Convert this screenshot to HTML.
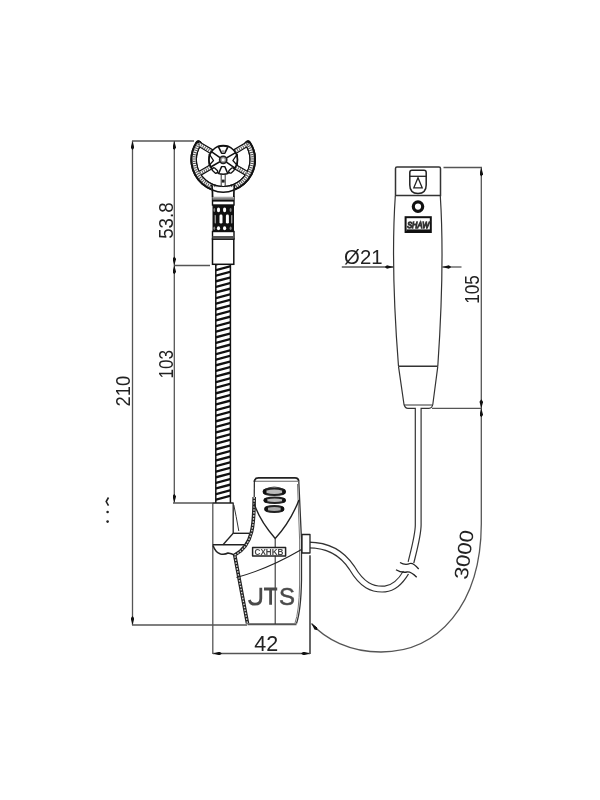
<!DOCTYPE html>
<html><head><meta charset="utf-8">
<style>
html,body{margin:0;padding:0;background:#fff;width:600px;height:800px;overflow:hidden}
svg{display:block;will-change:transform}
text{font-family:"Liberation Sans",sans-serif;fill:#222}
</style></head>
<body>
<svg width="600" height="800" viewBox="0 0 600 800">
<defs><linearGradient id="gb" x1="0" y1="0" x2="0" y2="1"><stop offset="0" stop-color="#ccc"/><stop offset="1" stop-color="#555"/></linearGradient>
<marker id="ah" viewBox="0 0 9 3.6" refX="9" refY="1.8" markerWidth="9" markerHeight="3.6" markerUnits="userSpaceOnUse" orient="auto-start-reverse">
<path d="M0,1.8 L2.5,0 L9,1.8 L2.5,3.6 z" fill="#111"/>
</marker>
</defs>
<rect width="600" height="800" fill="#fff"/>

<!-- ===== dimension lines ===== -->
<g stroke="#555" stroke-width="1.3" fill="none">
  <!-- 210 -->
  <line x1="132.5" y1="141" x2="132.5" y2="625" marker-start="url(#ah)" marker-end="url(#ah)"/>
  <line x1="132" y1="141" x2="194" y2="141"/>
  <line x1="132" y1="625" x2="247" y2="625"/>
  <!-- 53.8 -->
  <line x1="174.3" y1="141" x2="174.3" y2="265.4" marker-start="url(#ah)" marker-end="url(#ah)"/>
  <line x1="174" y1="265.5" x2="210" y2="265.5"/>
  <!-- 103 -->
  <line x1="174.3" y1="265.4" x2="174.3" y2="502.8" marker-start="url(#ah)" marker-end="url(#ah)"/>
  <line x1="173" y1="503" x2="213" y2="503"/>
  <!-- 42 -->
  <line x1="213" y1="653.5" x2="310" y2="653.5" marker-start="url(#ah)" marker-end="url(#ah)"/>
  <line x1="212.8" y1="503" x2="212.8" y2="654"/>
  <line x1="310" y1="555" x2="310" y2="654"/>
  <!-- 105 -->
  <line x1="481.3" y1="167.5" x2="481.3" y2="408.3" marker-start="url(#ah)" marker-end="url(#ah)"/>
  <line x1="443.5" y1="167.5" x2="482" y2="167.5"/>
  <line x1="432" y1="408.3" x2="482" y2="408.3"/>
  <!-- 3000 -->
  <path d="M481.3,408.3 L481.3,524 C481,605 438,652 381,652 C350,652 325,639 311.5,623.5" marker-start="url(#ah)" marker-end="url(#ah)"/>
  <!-- Ø21 -->
  <line x1="341.8" y1="267" x2="393.5" y2="267" marker-end="url(#ah)"/>
  <line x1="461.5" y1="267" x2="442.3" y2="267" marker-end="url(#ah)"/>
</g>

<!-- texts -->
<g fill="#111">
<g transform="translate(123.45,390.9) rotate(-90) translate(-15.5,7.0)"><text x="0" y="0" transform="scale(0.931,1)" font-size="19.75">210</text></g>
<g transform="translate(165.6,364.05) rotate(-90) translate(-14.5,7.0)"><text x="0" y="0" transform="scale(0.856,1)" font-size="20.04">103</text></g>
<g transform="translate(165.6,220.3) rotate(-90) translate(-18.5,7.0)"><text x="0" y="0" transform="scale(0.934,1)" font-size="20.04">53.8</text></g>
<g transform="translate(266.2,643.55) rotate(0) translate(-12.0,7.5)"><text x="0" y="0" transform="scale(0.999,1)" font-size="21.56">42</text></g>
<g transform="translate(363.1,256.6) rotate(0) translate(-19.0,7.5)"><text x="0" y="0" transform="scale(0.976,1)" font-size="20.83">Ø21</text></g>
<g transform="translate(472.0,289.3) rotate(-90) translate(-14.5,7.0)"><text x="0" y="0" transform="scale(0.869,1)" font-size="19.76">105</text></g>
<g transform="translate(463.7,554.45) rotate(-83) translate(-25.0,7.0)"><text x="0" y="0" transform="scale(1.149,1)" font-size="19.43">3000</text></g>
</g>

<!-- stray marks -->
<g fill="#222">
<path d="M108.5,497.5 L106.2,501.6 L108.5,505.6" stroke="#222" stroke-width="1.6" fill="none"/>
<circle cx="107.6" cy="512" r="1.3"/>
<circle cx="107.6" cy="521.6" r="1.3"/>
</g>

<!-- ===== handheld mic ===== -->
<g stroke="#333" fill="none" stroke-width="1.3">
  <path d="M395.5,195.5 L395.5,168.5 Q395.5,167 397,167 L439,167 Q440.5,167 440.5,168.5 L440.5,195.5 Z" fill="#fff" stroke-width="1.5"/>
  <path d="M395.3,196 C393,230 392.5,290 398.5,366.3" stroke-width="1.2"/>
  <path d="M440.3,196 C442.5,230 443,290 437.8,366.3" stroke-width="1.2"/>
  <line x1="398.5" y1="366.3" x2="437.8" y2="366.3" stroke-width="1.5"/>
  <path d="M398.5,366.3 L404,404.5 Q405,408.3 408,408.3 L429,408.3 Q432,408.3 432.8,404.5 L437.8,366.3" stroke-width="1.2"/>
  <line x1="404.5" y1="405" x2="432.3" y2="405" stroke-width="1"/>
  <!-- shield icon -->
  <path d="M409.8,176 L409.8,172.5 Q409.8,170.3 412,170.3 L424,170.3 Q426.2,170.3 426.2,172.5 L426.2,185 Q426.2,193.3 418,193.6 Q409.8,193.3 409.8,185 Z" stroke="#222" stroke-width="1.5"/>
  <line x1="409.8" y1="176.3" x2="426.2" y2="176.3" stroke="#222" stroke-width="1.3"/>
  <path d="M418,177.8 L413.8,187.8 L422.2,187.8 Z" stroke="#222" stroke-width="1.3"/>
  <!-- ring dot -->
  <circle cx="418" cy="206.6" r="4.7" stroke="#111" stroke-width="3.2"/>
  <!-- label -->
  <rect x="405.6" y="217.2" width="25.2" height="14.8" stroke="#111" stroke-width="2" fill="#fff"/>
  <text x="418.2" y="228.2" font-size="9.5" font-style="italic" text-anchor="middle" style="fill:#333" textLength="22" lengthAdjust="spacingAndGlyphs">SHAW</text>
  <line x1="406.5" y1="230.3" x2="430" y2="230.3" stroke="#111" stroke-width="1.8"/>
</g>

<!-- ===== cable ===== -->
<g fill="none">
  <path d="M309,545 C325,545 340,550 352,568 C362,585 372,590 385,589 C395,588 401,581 406,572.5" stroke="#333" stroke-width="7"/>
  <path d="M308,545 C325,545 340,550 352,568 C362,585 372,590 385,589 C395,588 401,581 406.5,571.5" stroke="#fff" stroke-width="4.6"/>
  <path d="M418.2,408 L418.2,525 C418.2,535 414,550 411,562.5" stroke="#333" stroke-width="7"/>
  <path d="M418.2,407 L418.2,525 C418.2,535 414,550 410.7,563.5" stroke="#fff" stroke-width="4.6"/>
  <!-- break -->
  <path d="M400,562.5 Q405,565.5 410,563.5 Q413,562.5 418.7,569" stroke="#222" stroke-width="1.3"/>
  <path d="M396,569.7 Q401,573 407,572 Q411,571.5 416.7,577.3" stroke="#222" stroke-width="1.3"/>
</g>


<!-- ===== gooseneck mic ===== -->
<g id="goose">
  <clipPath id="gnclip"><rect x="215.6" y="264" width="15" height="239"/></clipPath>
  <path clip-path="url(#gnclip)" stroke="#111" stroke-width="2.3" d="M215,499.95 L231,495.65 M215,494.35 L231,490.05 M215,488.75 L231,484.45 M215,483.15 L231,478.85 M215,477.55 L231,473.25 M215,471.95 L231,467.65 M215,466.35 L231,462.05 M215,460.75 L231,456.45 M215,455.15 L231,450.85 M215,449.55 L231,445.25 M215,443.95 L231,439.65 M215,438.35 L231,434.05 M215,432.75 L231,428.45 M215,427.15 L231,422.85 M215,421.55 L231,417.25 M215,415.95 L231,411.65 M215,410.35 L231,406.05 M215,404.75 L231,400.45 M215,399.15 L231,394.85 M215,393.55 L231,389.25 M215,387.95 L231,383.65 M215,382.35 L231,378.05 M215,376.75 L231,372.45 M215,371.15 L231,366.85 M215,365.55 L231,361.25 M215,359.95 L231,355.65 M215,354.35 L231,350.05 M215,348.75 L231,344.45 M215,343.15 L231,338.85 M215,337.55 L231,333.25 M215,331.95 L231,327.65 M215,326.35 L231,322.05 M215,320.75 L231,316.45 M215,315.15 L231,310.85 M215,309.55 L231,305.25 M215,303.95 L231,299.65 M215,298.35 L231,294.05 M215,292.75 L231,288.45 M215,287.15 L231,282.85 M215,281.55 L231,277.25 M215,275.95 L231,271.65 M215,270.35 L231,266.05 M215,264.75 L231,260.45"/>
  <line x1="215.8" y1="264" x2="215.8" y2="503" stroke="#111" stroke-width="1.5"/>
  <line x1="230.4" y1="264" x2="230.4" y2="503" stroke="#111" stroke-width="1.5"/>
</g>

<!-- connector -->
<g stroke="#111" fill="none">
  <rect x="212.5" y="239" width="21.3" height="25.3" stroke-width="1.5" fill="#fff"/>
  <rect x="212.5" y="205" width="21.5" height="26.5" fill="#111" stroke="none"/>
  <g stroke="none">
    <ellipse cx="218.5" cy="209.9" rx="1.6" ry="2.3" fill="#fff"/>
    <ellipse cx="224.6" cy="209.9" rx="1.6" ry="2.3" fill="#fff"/>
    <ellipse cx="214.3" cy="209.9" rx="0.9" ry="2" fill="#888"/>
    <ellipse cx="230.6" cy="209.9" rx="1" ry="2" fill="#888"/>
    <rect x="219.5" y="214.6" width="3" height="9" rx="1.4" fill="#fff"/>
    <rect x="225.9" y="214.6" width="3" height="9" rx="1.4" fill="#fff"/>
    <rect x="214.6" y="215" width="1.4" height="8.4" rx="0.6" fill="#999"/>
    <rect x="231" y="215" width="1.4" height="8.4" rx="0.6" fill="#999"/>
    <ellipse cx="218.5" cy="228.3" rx="1.6" ry="2" fill="#fff"/>
    <ellipse cx="224.6" cy="228.3" rx="1.6" ry="2" fill="#fff"/>
    <ellipse cx="214.3" cy="228.3" rx="0.9" ry="1.8" fill="#888"/>
    <ellipse cx="230.6" cy="228.3" rx="1" ry="1.8" fill="#888"/>
  </g>
  <rect x="212.5" y="231.5" width="21.5" height="7.5" fill="#fff" stroke-width="1.4"/>
  <rect x="212.5" y="236" width="21.5" height="2.5" fill="#555" stroke="none"/>
  <rect x="212.5" y="190" width="21.5" height="15" fill="#fff" stroke-width="1.4"/>
  <rect x="212.5" y="196.3" width="21.5" height="3.8" fill="url(#gb)" stroke="none"/>
  <rect x="212.5" y="200" width="21.5" height="1.6" fill="#111" stroke="none"/>
</g>

<!-- head -->
<g fill="none" stroke-linejoin="round" stroke-linecap="round">
  <path d="M211.24,151.43 L198.46,143.73 M235.16,151.43 L247.94,143.73 M210.56,167.10 L199.82,173.30 M235.84,167.10 L246.58,173.30" stroke="#111" stroke-width="5.4"/>
  <path d="M198.46,143.73 A29.5,29.5 0 1,0 247.94,143.73" stroke="#111" stroke-width="6.6" stroke-linecap="round"/>
  <path d="M198.46,143.73 A29.5,29.5 0 1,0 247.94,143.73" stroke="#111" stroke-width="6.6"/>
  <path d="M198.79,143.95 A29.1,29.1 0 1,0 247.61,143.95" stroke="#fff" stroke-width="3.2" stroke-linecap="butt"/>
  <path d="M211.24,151.43 L198.46,143.73 M235.16,151.43 L247.94,143.73 M210.56,167.10 L199.82,173.30 M235.84,167.10 L246.58,173.30" stroke="#fff" stroke-width="3.0" stroke-linecap="butt"/>
  <path d="M198.79,143.95 A29.1,29.1 0 1,0 247.61,143.95" stroke="#555" stroke-width="3.2" stroke-dasharray="1.1,1.1" stroke-linecap="butt"/>
  <path d="M211.24,151.43 L198.46,143.73 M235.16,151.43 L247.94,143.73 M210.56,167.10 L199.82,173.30 M235.84,167.10 L246.58,173.30" stroke="#666" stroke-width="3.0" stroke-dasharray="1.1,1.1" stroke-linecap="butt"/>
  <circle cx="223.2" cy="159.8" r="14.2" stroke="#111" stroke-width="1.5" fill="#fff"/>
  <path d="M211.40,151.54 L235.00,168.06 M210.73,167.00 L235.67,152.60" stroke="#111" stroke-width="1.5"/>
  <path d="M218.4,146.6 Q223.2,145.4 228,146.6 L224.8,153.2 L221.6,153.2 Z" stroke="#111" stroke-width="1.6" fill="#fff"/>
  <rect x="221.9" y="150.3" width="2.6" height="2.6" fill="#999" stroke="none"/>
  <path d="M218.6,173.6 Q223.2,174.6 227.8,173.6 L224.8,166.6 L221.6,166.6 Z" stroke="#111" stroke-width="1.4" fill="#fff"/>
  <path d="M209.2,154.2 Q208.4,159.8 209.2,165.4 L213.5,160.5 Z" stroke="#111" stroke-width="1.3"/>
  <path d="M237.2,154.2 Q238,159.8 237.2,165.4 L232.9,160.5 Z" stroke="#111" stroke-width="1.3"/>
  <rect x="-3" y="-1.6" width="6" height="3.2" rx="1.2" transform="translate(214.9,170.5) rotate(42)" stroke="#111" stroke-width="1.3" fill="#fff"/>
  <rect x="-3" y="-1.6" width="6" height="3.2" rx="1.2" transform="translate(231.5,170.5) rotate(-42)" stroke="#111" stroke-width="1.3" fill="#fff"/>
  <circle cx="223.2" cy="159.8" r="3.6" stroke="#222" stroke-width="1.6" fill="#999"/>
  <circle cx="223.2" cy="159.8" r="1.5" fill="#fff" stroke="none"/>
  <!-- bottom spoke -->
  <line x1="221.2" y1="174" x2="221.2" y2="187" stroke="#333" stroke-width="1" stroke-linecap="butt"/>
  <line x1="225.2" y1="174" x2="225.2" y2="187" stroke="#333" stroke-width="1" stroke-linecap="butt"/>
  <rect x="221.8" y="179.6" width="2.8" height="3" fill="#222" stroke="none"/>
  <!-- neck -->
  <rect x="211.8" y="187.1" width="22.8" height="9.3" fill="#fff" stroke="none"/>
  <path d="M212.3,190 Q223.2,194.5 234.1,190" stroke="#111" stroke-width="1.5" stroke-linecap="butt"/>
  <path d="M211.6,184.5 Q212.6,188 212.6,197" stroke="#111" stroke-width="1.6" stroke-linecap="butt"/>
  <path d="M234.8,184.5 Q233.8,188 233.8,197" stroke="#111" stroke-width="1.6" stroke-linecap="butt"/>
</g>


<!-- ===== base ===== -->
<g fill="none" stroke-linejoin="round">
  <!-- post -->
  <path d="M212.8,503 L233.2,503 L233.2,533.5" stroke="#222" stroke-width="1.3"/>
  <path d="M233.8,505 Q236,515 238.8,531" stroke="#333" stroke-width="1"/>
  <!-- shelf -->
  <path d="M233.2,533.3 L249.5,533.3" stroke="#222" stroke-width="1.4"/>
  <path d="M223,544.8 L233.2,533.3" stroke="#222" stroke-width="1.3"/>
  <path d="M212.8,544.8 L246,544.8" stroke="#222" stroke-width="1.5"/>
  <path d="M213,545.5 Q215.5,552.5 220.5,554 Q225,554.8 228,553 Q231,553.5 235,555.2" stroke="#222" stroke-width="1.5"/>
  <!-- left hatched contour -->
  <path d="M254.4,480 L254.2,500" stroke="#333" stroke-width="1.3"/>
  <path d="M254.2,497 C254,522 254,545 234.7,555 L247.5,623.5" stroke="#222" stroke-width="3.6"/>
  <path d="M254.2,497 C254,522 254,545 234.7,555 L247.5,623.5" stroke="#ddd" stroke-width="1.3" stroke-dasharray="1.6,1.4"/>
  <!-- top -->
  <path d="M254.4,482 Q254.4,477.8 258.5,477.8 L295,477.8 Q298.5,477.8 298.8,481.5" stroke="#222" stroke-width="1.7"/>
  <path d="M255,481.3 L298.5,481.3" stroke="#666" stroke-width="1.1"/>
  <!-- right contour -->
  <path d="M298.8,481.5 L301.5,540 L301.5,580 Q301,610 296.5,623.5" stroke="#333" stroke-width="1.3"/>
  <path d="M297.5,484 L299.6,540 L299.6,585 Q299,612 295,623" stroke="#777" stroke-width="1"/>
  <!-- bottom -->
  <path d="M247.5,624.3 L296.5,624.3" stroke="#555" stroke-width="2"/>
  <!-- V -->
  <path d="M254.2,503.5 C258,516 267,529 275.2,538.5 C284,529 293,515 299,500" stroke="#222" stroke-width="1.4"/>
  <line x1="275.2" y1="538.5" x2="275.2" y2="624" stroke="#333" stroke-width="1.1"/>
  <!-- slots -->
  <path d="M263.5,490 Q274.3,484 285,490" stroke="#555" stroke-width="1"/>
  <ellipse cx="274.3" cy="491.8" rx="10.8" ry="3.2" stroke="#222" stroke-width="2" fill="#bbb"/>
  <ellipse cx="274.7" cy="500.3" rx="10.4" ry="2.8" stroke="#222" stroke-width="2" fill="#bbb"/>
  <ellipse cx="274.3" cy="509" rx="9.2" ry="3" stroke="#222" stroke-width="2" fill="#aaa"/>
  <g fill="#111">
    <ellipse cx="264.8" cy="491.8" rx="1.8" ry="2.6"/><ellipse cx="283.8" cy="491.8" rx="1.8" ry="2.6"/>
    <ellipse cx="265.6" cy="500.3" rx="1.8" ry="2.4"/><ellipse cx="283.8" cy="500.3" rx="1.8" ry="2.4"/>
    <ellipse cx="266.3" cy="509" rx="1.8" ry="2.4"/><ellipse cx="282.3" cy="509" rx="1.8" ry="2.4"/>
  </g>
  <!-- label -->
  <rect x="252.6" y="547.5" width="33" height="8.6" stroke="#222" stroke-width="1.5" fill="#fff"/>
  <text x="269" y="555" font-size="8.8" font-weight="bold" text-anchor="middle" style="fill:#444" textLength="29" lengthAdjust="spacingAndGlyphs">CXHKB</text>
  <!-- sweep -->
  <path d="M301.5,549.5 Q268,569 236.5,577.5" stroke="#222" stroke-width="1.1"/>
  <!-- connector -->
  <rect x="302" y="534.5" width="8" height="18.5" stroke="#222" stroke-width="1.3" fill="#fff"/>
  <line x1="310" y1="556" x2="310" y2="654" stroke="#444" stroke-width="1.1"/>
</g>
<g stroke="#4a4a4a" stroke-width="2.8" fill="none">
  <path d="M260.8,587.8 L260.8,598.5 Q260.8,604.2 255,604.2 Q250.5,604.2 249.3,600"/>
  <path d="M264,589 L277.2,589 M270.6,589 L270.6,604.8"/>
</g>
<text x="279" y="604.8" font-size="23.5" style="fill:#4a4a4a;stroke:#4a4a4a;stroke-width:0.5" transform="translate(279,0) scale(1.02,1) translate(-279,0)">S</text>

</svg>
</body></html>
